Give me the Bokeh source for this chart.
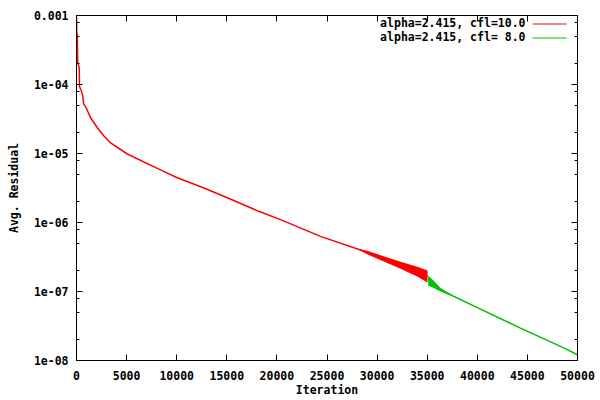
from bokeh.plotting import figure
from bokeh.models import (FixedTicker, CustomJSTickFormatter, LinearAxis, LogAxis,
                          Label, BoxAnnotation, Range1d)
from bokeh.embed import file_html
from bokeh.resources import INLINE

# ---------------- data ----------------
red_iter = [0, 40, 80, 120, 270, 300, 470, 630, 700, 1000, 1400, 2070, 2690,
            3400, 5000, 5690, 8380, 10000, 12400, 15000, 18260, 20360, 24350,
            28340, 32340, 35030]
red_resid = [9.35e-4, 4.07e-4, 5.48e-4, 2.08e-4, 1.76e-4, 9.35e-5, 8.2e-5,
             6.9e-5, 5.3e-5, 4.5e-5, 3.3e-5, 2.38e-5, 1.82e-5, 1.42e-5, 1.0e-5,
             8.9e-6, 5.8e-6, 4.49e-6, 3.3e-6, 2.3e-6, 1.44e-6, 1.10e-6, 6.3e-7,
             4.0e-7, 2.4e-7, 1.65e-7]

# oscillation envelope of the cfl=10 run
red_band_iter = [28000, 29000, 30500, 32340, 34000, 35030]
red_band_lo = [4.15e-7, 3.47e-7, 2.80e-7, 2.14e-7, 1.65e-7, 1.35e-7]
red_band_hi = [4.20e-7, 3.89e-7, 3.29e-7, 2.69e-7, 2.28e-7, 2.02e-7]

green_iter = [35100, 35600, 36330, 40320, 44310, 48300, 50000]
green_resid = [1.54e-7, 1.30e-7, 1.05e-7, 5.55e-8, 2.95e-8, 1.6e-8, 1.21e-8]

green_band_iter = [35100, 35600, 36330, 37500]
green_band_lo = [1.22e-7, 1.13e-7, 1.00e-7, 8.6e-8]
green_band_hi = [1.71e-7, 1.45e-7, 1.12e-7, 8.9e-8]

x_ticks = [0, 5000, 10000, 15000, 20000, 25000, 30000, 35000, 40000, 45000, 50000]
y_tick_values = [1e-8, 1e-7, 1e-6, 1e-5, 1e-4, 1e-3]
y_tick_labels = ["1e-08", "1e-07", "1e-06", "1e-05", "1e-04", "0.001"]
y_minor_mult = [2, 5, 8]

series_labels = ["alpha=2.415, cfl=10.0", "alpha=2.415, cfl= 8.0"]
series_colors = ["#ff0000", "#00c000"]

# ---------------- figure ----------------
FONT = "DejaVu Sans Mono"
FSIZE = "11.5px"

p = figure(width=600, height=400, output_backend="svg", toolbar_location=None,
           y_axis_type="log", x_range=Range1d(0, 50000), y_range=Range1d(1e-8, 1e-3),
           min_border_left=76, min_border_right=23, min_border_top=15,
           min_border_bottom=40)
p.xgrid.visible = False
p.ygrid.visible = False
p.outline_line_color = "black"
p.background_fill_color = "white"
p.border_fill_color = "white"

y_minor = [m * v for v in y_tick_values[:-1] for m in y_minor_mult]
xt = FixedTicker(ticks=x_ticks, minor_ticks=[])
yt = FixedTicker(ticks=y_tick_values, minor_ticks=y_minor)
yfmt = CustomJSTickFormatter(args=dict(vals=y_tick_values, labs=y_tick_labels), code="""
let best = 0, bd = Infinity;
for (let i = 0; i < vals.length; i++) {
  const d = Math.abs(Math.log10(tick) - Math.log10(vals[i]));
  if (d < bd) { bd = d; best = i; }
}
return labs[best];
""")
blank = CustomJSTickFormatter(code="return '';")


def style(ax):
    ax.axis_line_color = "black"
    ax.axis_line_width = 1
    ax.major_tick_in = 6
    ax.major_tick_out = 0
    ax.minor_tick_in = 3
    ax.minor_tick_out = 0
    ax.major_tick_line_color = "black"
    ax.minor_tick_line_color = "black"
    ax.major_label_text_font = FONT
    ax.major_label_text_font_style = "bold"
    ax.major_label_text_font_size = FSIZE
    ax.major_label_text_color = "black"
    ax.axis_label_text_font = FONT
    ax.axis_label_text_font_style = "bold"
    ax.axis_label_text_font_size = FSIZE
    ax.axis_label_text_color = "black"


xa = p.xaxis[0]
style(xa)
xa.ticker = xt
xa.major_label_standoff = 10
xa.axis_label = "Iteration"
xa.axis_label_standoff = 0

ya = p.yaxis[0]
style(ya)
ya.ticker = yt
ya.formatter = yfmt
ya.major_label_standoff = 8
ya.axis_label = "Avg. Residual"
ya.axis_label_standoff = 10

top = LinearAxis(ticker=xt, formatter=blank)
style(top)
top.major_label_standoff = 0
p.add_layout(top, "above")

right = LogAxis(ticker=yt, formatter=blank)
style(right)
right.major_label_standoff = 0
p.add_layout(right, "right")

# ---------------- data marks ----------------
p.varea(x=red_band_iter, y1=red_band_lo, y2=red_band_hi, fill_color=series_colors[0])
p.line(red_iter, red_resid, line_color=series_colors[0], line_width=1.5)
p.varea(x=green_band_iter, y1=green_band_lo, y2=green_band_hi, fill_color=series_colors[1])
p.line(green_iter, green_resid, line_color=series_colors[1], line_width=1.5)

# ---------------- gnuplot-style key (text, then sample line) ----------------
row_y = [337.5, 323.5]  # screen units from frame bottom
for lab, col, yy in zip(series_labels, series_colors, row_y):
    p.add_layout(Label(x=449, y=yy, x_units="screen", y_units="screen", text=lab,
                       text_align="right", text_baseline="middle",
                       text_font=FONT, text_font_style="bold",
                       text_font_size=FSIZE, text_color="black"))
    p.add_layout(BoxAnnotation(left=456, right=490, bottom=yy - 1.5, top=yy - 0.5,
                               left_units="screen", right_units="screen",
                               bottom_units="screen", top_units="screen",
                               fill_color=col, fill_alpha=1.0, line_color=None))

open("out.html", "w").write(file_html(p, INLINE))
